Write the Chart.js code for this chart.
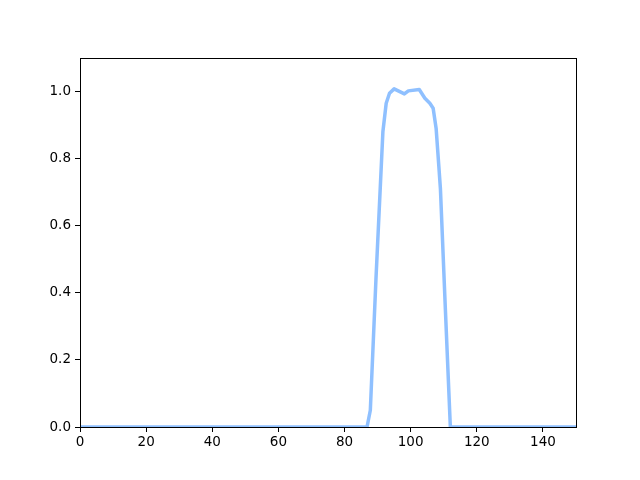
<!DOCTYPE html>
<html>
<head>
<meta charset="utf-8">
<script src="https://cdn.jsdelivr.net/npm/chart.js@4"></script>
<style>
    html, body { margin: 0; padding: 0; background: #fff; }
    #wrap { width: 640px; height: 480px; }
</style>
</head>
<body>
<div id="wrap"><canvas id="curveChart" width="640" height="480"></canvas></div>
<script>
// ===== DATA =====
var xValues = [0, 86.8, 87.8, 89.5, 91.6, 92.6, 93.6, 95.0, 98.1, 99.3, 102.6, 104.3, 105.8, 106.8, 107.7, 108.5, 109.0, 110.5, 112.0, 150];
var yValues = [0, 0, 0.05, 0.44, 0.88, 0.965, 0.995, 1.008, 0.993, 1.002, 1.006, 0.98, 0.965, 0.95, 0.89, 0.78, 0.71, 0.35, 0, 0];
var xTicks = [0, 20, 40, 60, 80, 100, 120, 140];
var yTicks = [0.0, 0.2, 0.4, 0.6, 0.8, 1.0];

var points = xValues.map(function(x, i) { return { x: x, y: yValues[i] }; });

// frame round the plot area, drawn above the line like matplotlib spines
var framePlugin = {
    id: 'frame',
    afterDatasetsDraw: function(chart) {
        var a = chart.chartArea;
        var ctx = chart.ctx;
        ctx.save();
        ctx.strokeStyle = '#000';
        ctx.lineWidth = 1;
        ctx.strokeRect(Math.round(a.left) + 0.5, Math.round(a.top) + 0.5,
                       Math.round(a.right - a.left), Math.round(a.bottom - a.top));
        ctx.restore();
    }
};

var tickFont = { family: 'DejaVu Sans', size: 13.5 };

var ctx = document.getElementById('curveChart').getContext('2d');
new Chart(ctx, {
    type: 'line',
    data: {
        datasets: [{
            data: points,
            borderColor: '#8fc0ff',
            borderWidth: 3.5,
            borderJoinStyle: 'round',
            pointRadius: 0,
            tension: 0,
            fill: false,
            clip: 0
        }]
    },
    options: {
        responsive: false,
        animation: false,
        layout: { padding: { left: 0, top: 58, right: 64, bottom: 0 } },
        plugins: {
            legend: { display: false },
            tooltip: { enabled: false }
        },
        scales: {
            x: {
                type: 'linear',
                min: 0,
                max: 150,
                afterBuildTicks: function(axis) {
                    axis.ticks = xTicks.map(function(v) { return { value: v }; });
                },
                afterFit: function(axis) { axis.height = 53; },
                grid: { drawOnChartArea: false, drawTicks: true, tickLength: 5, color: '#000' },
                border: { display: false },
                ticks: {
                    color: '#000',
                    font: tickFont,
                    padding: 2,
                    maxRotation: 0,
                    callback: function(v) { return String(v); }
                }
            },
            y: {
                type: 'linear',
                min: 0,
                max: 1.1,
                afterBuildTicks: function(axis) {
                    axis.ticks = yTicks.map(function(v) { return { value: v }; });
                },
                afterFit: function(axis) { axis.width = 80; },
                grid: { drawOnChartArea: false, drawTicks: true, tickLength: 5, color: '#000' },
                border: { display: false },
                ticks: {
                    color: '#000',
                    font: tickFont,
                    padding: 4,
                    callback: function(v) { return v.toFixed(1); }
                }
            }
        }
    },
    plugins: [framePlugin]
});
</script>
</body>
</html>
